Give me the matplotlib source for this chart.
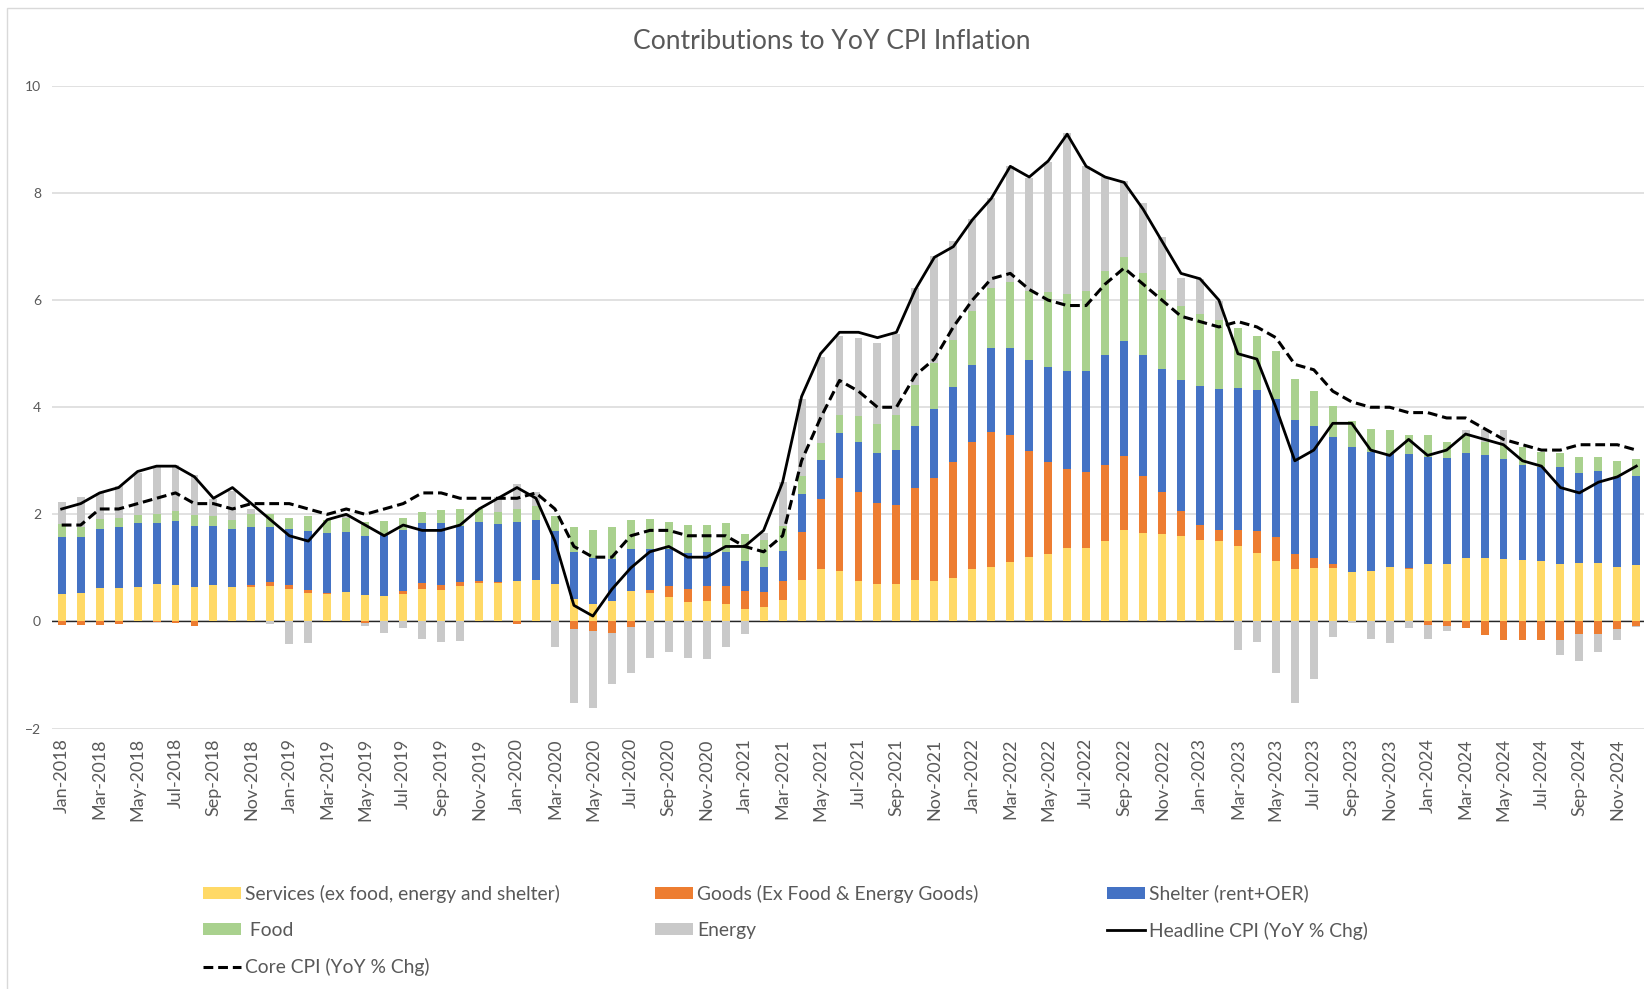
import numpy as np
import pandas as pd
import matplotlib
matplotlib.use("Agg")
import matplotlib.pyplot as plt
from matplotlib.patches import Patch, Rectangle
from matplotlib.lines import Line2D

plt.rcParams['font.family'] = ['Lato', 'DejaVu Sans']

months = pd.date_range('2018-01-01', periods=84, freq='MS').strftime('%b-%Y').tolist()

services = [
    0.51, 0.525, 0.62, 0.62, 0.65, 0.70, 0.68, 0.65, 0.675, 0.65, 0.65, 0.67,
    0.60, 0.54, 0.52, 0.55, 0.50, 0.48, 0.52, 0.60, 0.58, 0.67, 0.71, 0.71,
    0.75, 0.775, 0.69, 0.425, 0.32, 0.375, 0.57, 0.525, 0.46, 0.36, 0.39, 0.33,
    0.24, 0.275, 0.40, 0.775, 0.98, 0.94, 0.75, 0.69, 0.69, 0.77, 0.75, 0.82,
    0.98, 1.025, 1.11, 1.21, 1.25, 1.375, 1.375, 1.50, 1.71, 1.65, 1.625, 1.59,
    1.525, 1.51, 1.40, 1.27, 1.13, 0.97, 0.99, 0.99, 0.92, 0.95, 1.02, 0.98,
    1.07, 1.075, 1.18, 1.18, 1.175, 1.15, 1.12, 1.075, 1.10, 1.10, 1.025, 1.05]

goods = [
    -0.07, -0.07, -0.06, -0.05, 0.0, -0.02, -0.03, -0.08, 0.0, 0.0, 0.03, 0.07,
    0.075, 0.05, 0.02, 0.0, -0.03, 0.0, 0.05, 0.12, 0.10, 0.06, 0.05, 0.02,
    -0.04, 0.0, 0.0, -0.15, -0.18, -0.22, -0.10, 0.06, 0.21, 0.25, 0.28, 0.34,
    0.33, 0.27, 0.36, 0.90, 1.31, 1.73, 1.67, 1.53, 1.48, 1.73, 1.925, 2.16,
    2.37, 2.515, 2.37, 1.98, 1.73, 1.465, 1.415, 1.425, 1.38, 1.07, 0.795, 0.47,
    0.275, 0.20, 0.31, 0.42, 0.45, 0.28, 0.19, 0.085, 0.0, 0.0, 0.0, 0.025,
    -0.06, -0.08, -0.13, -0.25, -0.34, -0.35, -0.35, -0.34, -0.24, -0.23, -0.14, -0.08]

shelter = [
    1.07, 1.045, 1.11, 1.15, 1.18, 1.13, 1.19, 1.14, 1.105, 1.07, 1.09, 1.03,
    1.045, 1.10, 1.11, 1.125, 1.09, 1.13, 1.14, 1.11, 1.16, 1.06, 1.10, 1.09,
    1.11, 1.125, 1.00, 0.875, 0.87, 0.795, 0.78, 0.775, 0.69, 0.665, 0.63, 0.62,
    0.55, 0.48, 0.56, 0.70, 0.73, 0.85, 0.93, 0.93, 1.04, 1.15, 1.295, 1.395,
    1.44, 1.57, 1.63, 1.69, 1.77, 1.83, 1.88, 2.05, 2.14, 2.25, 2.29, 2.44,
    2.59, 2.63, 2.65, 2.63, 2.58, 2.52, 2.47, 2.375, 2.33, 2.22, 2.105, 2.115,
    2.01, 1.975, 1.97, 1.92, 1.865, 1.78, 1.755, 1.80, 1.675, 1.71, 1.665, 1.67]

food = [
    0.24, 0.20, 0.19, 0.17, 0.15, 0.17, 0.20, 0.19, 0.18, 0.18, 0.23, 0.23,
    0.22, 0.27, 0.25, 0.265, 0.27, 0.265, 0.23, 0.22, 0.24, 0.31, 0.24, 0.23,
    0.24, 0.25, 0.28, 0.46, 0.52, 0.59, 0.55, 0.56, 0.50, 0.525, 0.50, 0.54,
    0.51, 0.50, 0.47, 0.335, 0.31, 0.34, 0.48, 0.54, 0.65, 0.77, 0.85, 0.885,
    1.01, 1.11, 1.23, 1.29, 1.40, 1.45, 1.505, 1.565, 1.57, 1.53, 1.48, 1.40,
    1.36, 1.29, 1.12, 1.02, 0.89, 0.75, 0.65, 0.57, 0.50, 0.43, 0.445, 0.36,
    0.40, 0.30, 0.35, 0.26, 0.26, 0.32, 0.295, 0.275, 0.305, 0.27, 0.31, 0.32]

energy = [
    0.41, 0.55, 0.48, 0.58, 0.80, 0.90, 0.85, 0.75, 0.32, 0.54, 0.10, -0.05,
    -0.43, -0.41, 0.0, 0.05, -0.05, -0.22, -0.12, -0.32, -0.39, -0.375, 0.0, 0.27,
    0.47, 0.27, -0.475, -1.38, -1.445, -0.95, -0.87, -0.69, -0.575, -0.68, -0.71, -0.475,
    -0.23, 0.13, 0.81, 1.44, 1.61, 1.48, 1.46, 1.51, 1.50, 1.81, 2.0, 1.84,
    1.725, 1.68, 2.16, 2.105, 2.43, 3.0, 2.325, 1.76, 1.43, 1.32, 0.985, 0.52,
    0.65, 0.35, -0.54, -0.39, -0.96, -1.52, -1.08, -0.30, -0.03, -0.33, -0.40, -0.12,
    -0.26, -0.10, 0.08, 0.24, 0.27, 0.0, 0.0, -0.28, -0.49, -0.34, -0.20, -0.03]

headline = [
    2.1, 2.2, 2.4, 2.5, 2.8, 2.9, 2.9, 2.7, 2.3, 2.5, 2.2, 1.9,
    1.6, 1.5, 1.9, 2.0, 1.8, 1.6, 1.8, 1.7, 1.7, 1.8, 2.1, 2.3,
    2.5, 2.3, 1.5, 0.3, 0.1, 0.6, 1.0, 1.3, 1.4, 1.2, 1.2, 1.4,
    1.4, 1.7, 2.6, 4.2, 5.0, 5.4, 5.4, 5.3, 5.4, 6.2, 6.8, 7.0,
    7.5, 7.9, 8.5, 8.3, 8.6, 9.1, 8.5, 8.3, 8.2, 7.7, 7.1, 6.5,
    6.4, 6.0, 5.0, 4.9, 4.0, 3.0, 3.2, 3.7, 3.7, 3.2, 3.1, 3.4,
    3.1, 3.2, 3.5, 3.4, 3.3, 3.0, 2.9, 2.5, 2.4, 2.6, 2.7, 2.9]

core = [
    1.8, 1.8, 2.1, 2.1, 2.2, 2.3, 2.4, 2.2, 2.2, 2.1, 2.2, 2.2,
    2.2, 2.1, 2.0, 2.1, 2.0, 2.1, 2.2, 2.4, 2.4, 2.3, 2.3, 2.3,
    2.3, 2.4, 2.1, 1.4, 1.2, 1.2, 1.6, 1.7, 1.7, 1.6, 1.6, 1.6,
    1.4, 1.3, 1.6, 3.0, 3.8, 4.5, 4.3, 4.0, 4.0, 4.6, 4.9, 5.5,
    6.0, 6.4, 6.5, 6.2, 6.0, 5.9, 5.9, 6.3, 6.6, 6.3, 6.0, 5.7,
    5.6, 5.5, 5.6, 5.5, 5.3, 4.8, 4.7, 4.3, 4.1, 4.0, 4.0, 3.9,
    3.9, 3.8, 3.8, 3.6, 3.4, 3.3, 3.2, 3.2, 3.3, 3.3, 3.3, 3.2]

series_labels = ['Services (ex food, energy and shelter)', 'Goods (Ex Food & Energy Goods)',
                 'Shelter (rent+OER)', ' Food', 'Energy']
series_colors = ['#FFD966', '#ED7D31', '#4472C4', '#A9D18E', '#C9C9C9']
headline_label = 'Headline CPI (YoY % Chg)'
core_label = 'Core CPI (YoY % Chg)'

TXT = '#595959'
W, H = 1644, 989
fig = plt.figure(figsize=(W / 100, H / 100), dpi=100)

# chart border (light gray frame)
fig.add_artist(Rectangle((7 / W, -0.05), 1.1, 1 - 8.3 / H + 0.05, transform=fig.transFigure,
                         fill=False, ec='#D9D9D9', lw=1.0))

left, right = 52.2, 1645.8
top, bottom = 86.0, 728.5
ax = fig.add_axes([left / W, 1 - bottom / H, (right - left) / W, (bottom - top) / H])

x = np.arange(len(months))
pos_base = np.zeros(len(x))
neg_base = np.zeros(len(x))
handles = []
for vals, col, lab in zip([services, goods, shelter, food, energy], series_colors, series_labels):
    v = np.asarray(vals, dtype=float)
    b = np.where(v >= 0, pos_base, neg_base)
    ax.bar(x, v, width=0.42, bottom=b, color=col, linewidth=0, zorder=2)
    pos_base += np.where(v > 0, v, 0)
    neg_base += np.where(v < 0, v, 0)
    handles.append(Patch(facecolor=col, edgecolor='none', label=lab))

ax.plot(x, headline, color='black', lw=2.0, zorder=4, solid_joinstyle='round')
ax.plot(x, core, color='black', lw=2.2, dashes=(3.2, 1.6), zorder=4, dash_joinstyle='round')
h_head = Line2D([], [], color='black', lw=2.0, label=headline_label)
h_core = Line2D([], [], color='black', lw=2.2, dashes=(3.2, 1.6), label=core_label)

ax.set_xlim(-0.5, len(x) - 0.5)
ax.set_ylim(-2, 10)
ax.set_yticks(np.arange(-2, 11, 2))
ax.yaxis.grid(True, color='#D9D9D9', lw=1.1, zorder=0)
ax.set_axisbelow(True)
ax.axhline(0, color='#262626', lw=1.0, zorder=1.5)
for s in ax.spines.values():
    s.set_visible(False)

ax.set_xticks(x[::2])
ax.set_xticklabels(months[::2], rotation=90, fontsize=13, color=TXT)
ax.tick_params(axis='x', length=0, pad=7)
ax.tick_params(axis='y', length=0, pad=8, labelsize=10, labelcolor=TXT)

fig.text(831.7 / W, 1 - 49.3 / H, 'Contributions to YoY CPI Inflation', ha='center',
         va='baseline', fontsize=19.1, color=TXT)

leg_kw = dict(loc='upper left', frameon=False, borderpad=0, borderaxespad=0,
              fontsize=13.9, handlelength=1.97, handleheight=0.57, handletextpad=0.21,
              labelspacing=1.0, labelcolor=TXT)
cols = [([handles[0], handles[3], h_core], 203),
        ([handles[1], handles[4]], 655),
        ([handles[2], h_head], 1107)]
for hs, xpx in cols:
    lg = fig.legend(handles=hs, bbox_to_anchor=(xpx / W, 1 - 884.5 / H), **leg_kw)

fig.savefig('out.png', dpi=100)
